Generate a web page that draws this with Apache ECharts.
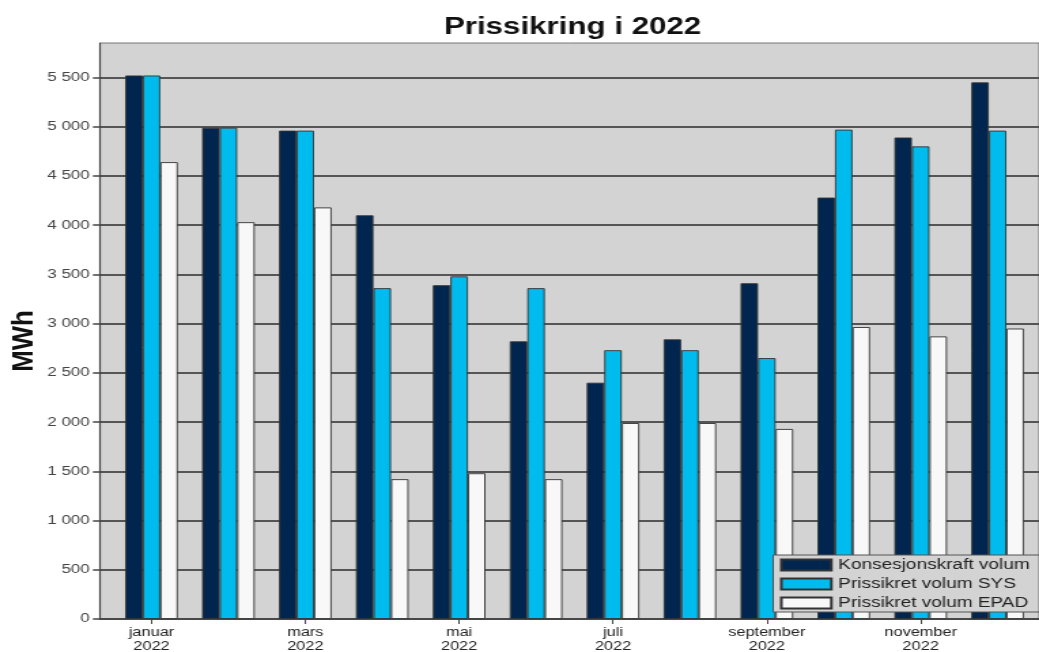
<!DOCTYPE html>
<html><head><meta charset="utf-8">
<script src="https://cdn.jsdelivr.net/npm/echarts@6/dist/echarts.min.js"></script>
<style>html,body{margin:0;padding:0;background:#fff;overflow:hidden}
#c{width:764px;height:652px;transform:scaleX(1.36);transform-origin:0 0}</style>
</head><body><div id="c"></div>
<script>
const categories = ['januar\n2022','februar\n2022','mars\n2022','april\n2022','mai\n2022','juni\n2022','juli\n2022','august\n2022','september\n2022','oktober\n2022','november\n2022','desember\n2022'];
const konsesjonskraft = [5520, 4990, 4960, 4100, 3390, 2820, 2400, 2840, 3410, 4280, 4890, 5450];
const prissikretSYS   = [5520, 4990, 4960, 3360, 3480, 3360, 2730, 2730, 2650, 4970, 4800, 4960];
const prissikretEPAD  = [4640, 4030, 4180, 1420, 1480, 1420, 1990, 1990, 1930, 2965, 2870, 2950];
const yTicks = [0, 500, 1000, 1500, 2000, 2500, 3000, 3500, 4000, 4500, 5000, 5500];
const seriesNames = ['Konsesjonskraft volum', 'Prissikret volum SYS', 'Prissikret volum EPAD'];

const FONT = 'Liberation Sans, Arial, sans-serif';
const fmt = v => String(v).replace(/\B(?=(\d{3})+(?!\d))/g, ' ');
const chart = echarts.init(document.getElementById('c'), null, {renderer: 'canvas'});
const barBase = {type: 'bar', xAxisIndex: 1, yAxisIndex: 1, barWidth: 12.9, barGap: '0%'};
chart.setOption({
  animation: false,
  title: {text: 'Prissikring i 2022', left: 416, textAlign: 'center', top: 11,
    textStyle: {fontFamily: FONT, fontSize: 23, fontWeight: 'bold', color: '#111'}},
  graphic: [{type: 'text', x: 18, y: 341, rotation: Math.PI / 2, scaleX: 1.17,
    style: {text: 'MWh', align: 'center', verticalAlign: 'middle',
      font: 'bold 22px Liberation Sans, Arial, sans-serif', fill: '#111'}}],
  grid: [
    {left: 73.5, top: 43, right: 0, bottom: 33, outerBoundsMode: 'none', show: true,
      backgroundColor: '#d3d3d3', borderColor: '#777', borderWidth: 1},
    {left: 83.1, top: 43, right: 2.2, bottom: 33, outerBoundsMode: 'none'}
  ],
  legend: {orient: 'vertical', left: 568.5, top: 555, data: seriesNames,
    backgroundColor: '#d3d3d3', borderColor: '#555', borderWidth: 1, borderRadius: 0,
    padding: [3, 7, 2, 5], itemWidth: 36.8, itemHeight: 11, itemGap: 5, icon: 'rect',
    textStyle: {fontFamily: FONT, fontSize: 14, color: '#222'}},
  xAxis: [
    {gridIndex: 0, type: 'value', min: 0, max: 1, axisLabel: {show: false}, axisTick: {show: false},
      splitLine: {show: false}, axisLine: {show: true, lineStyle: {color: '#444', width: 1.5}}},
    {gridIndex: 1, type: 'category', data: categories,
      axisLine: {show: false},
      axisTick: {show: true, alignWithLabel: true, interval: 1, length: 5, lineStyle: {color: '#444', width: 1}},
      axisLabel: {interval: 1, margin: 7, fontFamily: FONT, fontSize: 12, lineHeight: 14, color: '#222'}}
  ],
  yAxis: [
    {gridIndex: 0, type: 'value', min: 0, max: 5850, interval: 500,
      axisLine: {show: true, lineStyle: {color: '#444', width: 1.2}},
      axisTick: {show: true, length: 5.2, customValues: yTicks, lineStyle: {color: '#444', width: 1.5}},
      axisLabel: {customValues: yTicks, formatter: v => fmt(v), margin: 7.5, fontFamily: FONT, fontSize: 12.5, color: '#444'},
      splitLine: {show: true, lineStyle: {color: '#555', width: 2}}},
    {gridIndex: 1, type: 'value', min: 0, max: 5850, show: false, splitLine: {show: false}}
  ],
  series: [
    Object.assign({}, barBase, {name: seriesNames[0], data: konsesjonskraft,
      itemStyle: {color: '#00264f', borderColor: '#333', borderWidth: 0.9}}),
    Object.assign({}, barBase, {name: seriesNames[1], data: prissikretSYS,
      itemStyle: {color: '#00bbee', borderColor: '#333', borderWidth: 0.9}}),
    Object.assign({}, barBase, {name: seriesNames[2], data: prissikretEPAD,
      itemStyle: {color: '#f8f8f8', borderColor: '#333', borderWidth: 0.9}})
  ]
});
</script></body></html>
